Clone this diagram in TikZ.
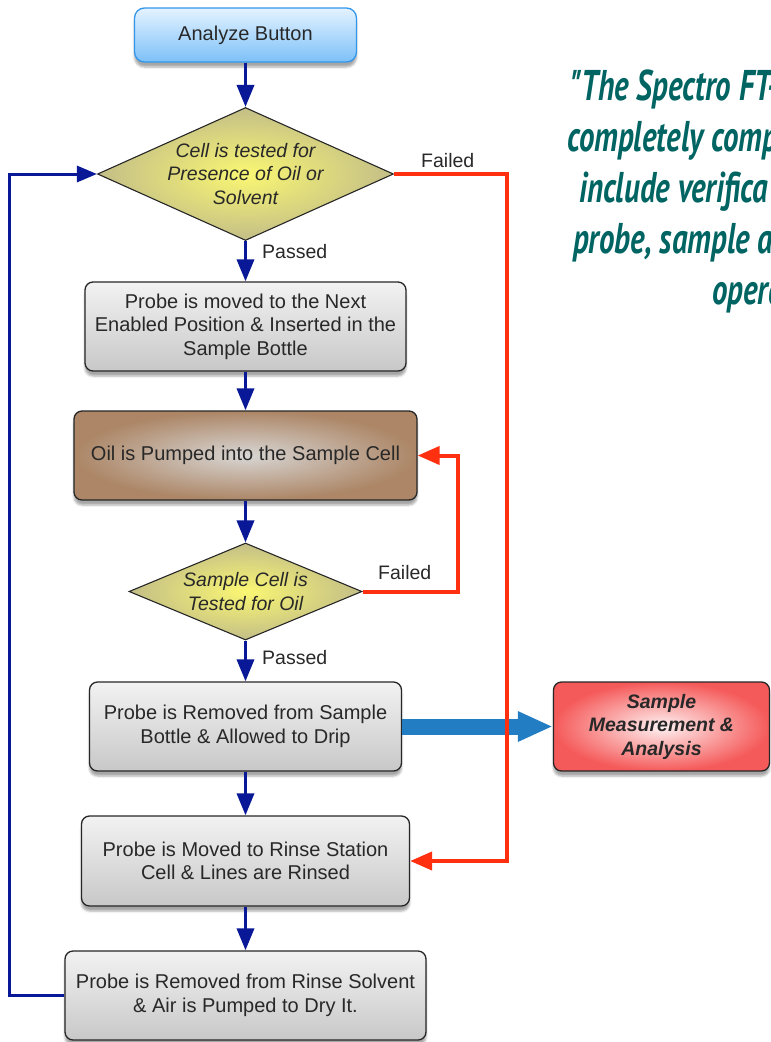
\documentclass[tikz,border=0pt]{standalone}
\usepackage{fontspec}
\setmainfont{Liberation Sans}
\newfontfamily\quotefont{PT Sans}
\usetikzlibrary{arrows.meta,shapes.geometric,shadows.blur}
\definecolor{navy}{RGB}{8,24,150}
\definecolor{redline}{RGB}{255,48,16}
\definecolor{txt}{RGB}{40,40,40}
\definecolor{tealq}{RGB}{0,100,98}
\definecolor{btntop}{RGB}{228,243,255}
\definecolor{btnbot}{RGB}{125,192,248}
\definecolor{btnborder}{RGB}{50,150,235}
\definecolor{greytop}{RGB}{242,242,242}
\definecolor{greybot}{RGB}{200,200,200}
\definecolor{dmdin}{RGB}{250,247,115}
\definecolor{dmdout}{RGB}{195,190,135}
\definecolor{brownin}{RGB}{216,214,212}
\definecolor{brownout}{RGB}{172,134,102}
\definecolor{pinkin}{RGB}{255,242,242}
\definecolor{pinkout}{RGB}{245,90,90}
\definecolor{bigarrow}{RGB}{35,125,195}
\tikzset{
  basebox/.style={font=\fontsize{20}{23.5}\selectfont, text=txt, align=center,
    inner sep=0pt, draw=black!85, line width=1.3pt, rounded corners=8pt,
    blur shadow={shadow xshift=0pt,shadow yshift=-5pt,shadow opacity=35}},
  greybox/.style={basebox, rectangle, top color=greytop, bottom color=greybot},
  btnbox/.style={basebox, rectangle, draw=btnborder, top color=btntop, bottom color=btnbot, rounded corners=10pt},
  brownbox/.style={basebox, rectangle, inner color=brownin, outer color=brownout},
  pinkbox/.style={basebox, rectangle, inner color=pinkin, outer color=pinkout,
    font=\fontsize{19.5}{23.5}\selectfont\bfseries\itshape},
  dmd/.style={shape=diamond, font=\fontsize{19.5}{23.5}\selectfont\itshape, text=txt,
    align=center, inner sep=0pt, draw=black!85, line width=1.1pt,
    inner color=dmdin, outer color=dmdout},
  lbl/.style={font=\fontsize{19.5}{22}\selectfont, text=txt, inner sep=0pt},
  bluearrow/.style={draw=navy, line width=3.5pt, -{Triangle[length=22pt,width=17pt]}},
  redarrow/.style={draw=redline, line width=4pt, -{Triangle[length=22pt,width=18pt]}},
  loopline/.style={draw=navy, line width=3pt, -{Triangle[length=20pt,width=16pt]}},
  bigarr/.style={draw=bigarrow, line width=16pt, -{Triangle[length=35pt,width=28pt]}},
  quote/.style={font=\quotefont\fontsize{43}{51}\selectfont\bfseries\itshape, text=tealq,
    inner sep=0pt, anchor=base west, xscale=0.72}
}
\begin{document}
\begin{tikzpicture}[x=1pt,y=-1pt]
\useasboundingbox (0,0) rectangle (771,1042);
\clip (0,0) rectangle (771,1042);

% quote
\node[quote] (q1) at (570,100) {"The Spectro FT-};
\node[quote] (q2) at (567,151) {completely comp};
\node[quote] (q3) at (579,202) {include verifica};
\node[quote] (q4) at (573,253) {probe, sample a};
\node[quote] (q5) at (712,304) {opera};

% nodes
\node[btnbox, minimum width=222pt, minimum height=54pt] (start) at (245.5,35) {Analyze Button};
\node[dmd, aspect=2.2, minimum width=296pt, minimum height=133pt] (d1) at (245.5,174)
  {Cell is tested for\\Presence of Oil or\\Solvent};
\node[greybox, minimum width=321pt, minimum height=89pt] (b2) at (245.5,326.5)
  {Probe is moved to the Next\\Enabled Position \& Inserted in the\\Sample Bottle};
\node[brownbox, minimum width=343pt, minimum height=89pt] (b3) at (245.5,455.5)
  {Oil is Pumped into the Sample Cell};
\node[dmd, aspect=2.4, minimum width=233pt, minimum height=97pt] (d2) at (245.5,591.5)
  {Sample Cell is\\Tested for Oil};
\node[greybox, minimum width=312pt, minimum height=89pt] (b4) at (245.5,726.5)
  {Probe is Removed from Sample\\Bottle \& Allowed to Drip};
\node[pinkbox, minimum width=216pt, minimum height=89pt] (sm) at (661.5,726.5)
  {Sample\\Measurement \&\\Analysis};
\node[greybox, minimum width=328pt, minimum height=90pt] (b5) at (245.5,861)
  {Probe is Moved to Rinse Station\\Cell \& Lines are Rinsed};
\node[greybox, minimum width=361pt, minimum height=89pt] (b6) at (245.5,995.5)
  {Probe is Removed from Rinse Solvent\\\& Air is Pumped to Dry It.};

% labels
\node[lbl, anchor=west] (p1) at (262,252) {Passed};
\node[lbl, anchor=west] (p2) at (262,658) {Passed};
\node[lbl, anchor=west] (f1) at (421,161) {Failed};
\node[lbl, anchor=west] (f2) at (378,573) {Failed};

% connectors
\draw[bluearrow] (start.south) -- (d1.north);
\draw[bluearrow] (d1.south) -- (b2.north);
\draw[bluearrow] (b2.south) -- (b3.north);
\draw[bluearrow] (b3.south) -- (d2.north);
\draw[bluearrow] (d2.south) -- (b4.north);
\draw[bluearrow] (b4.south) -- (b5.north);
\draw[bluearrow] (b5.south) -- (b6.north);
\draw[loopline] (b6.west) -| ([xshift=-87pt]d1.west) -- (d1.west);
\draw[bigarr] (b4.east) -- (sm.west);
\draw[redarrow] (d1.east) -| ([xshift=97pt]b5.east) -- (b5.east);
\draw[redarrow] (d2.east) -| ([xshift=40pt]b3.east) -- (b3.east);
\end{tikzpicture}
\end{document}
